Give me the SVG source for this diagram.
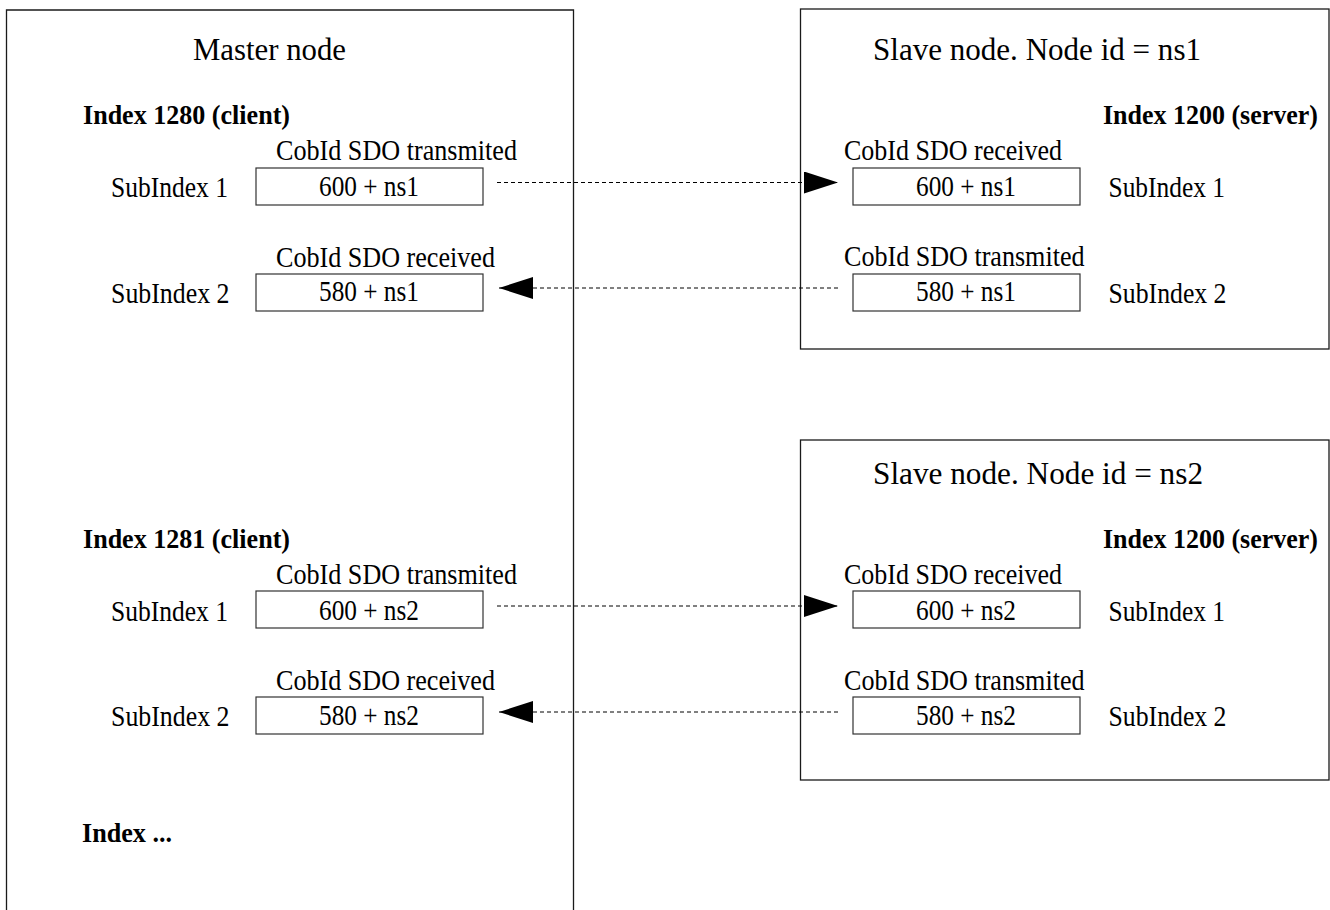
<svg xmlns="http://www.w3.org/2000/svg" width="1330" height="910" viewBox="0 0 1330 910">
<style>
  .frame{fill:none;stroke:#1a1a1a;stroke-width:1.3}
  .box{fill:#fff;stroke:#333;stroke-width:1.2}
  .t{font-family:"Liberation Serif","Times New Roman",serif;font-size:29px;fill:#000}
  .title{font-family:"Liberation Serif","Times New Roman",serif;font-size:32px;fill:#000}
  .b{font-family:"Liberation Serif","Times New Roman",serif;font-size:27px;font-weight:bold;fill:#000}
  .dash{fill:none;stroke:#000;stroke-width:1;stroke-dasharray:4 3}
</style>
<defs>
  <marker id="ah" markerUnits="userSpaceOnUse" markerWidth="34" markerHeight="22" refX="34" refY="11" orient="auto">
    <path d="M0,0 L34,11 L0,22 Z" fill="#000"/>
  </marker>
</defs>
<rect width="1330" height="910" fill="#fff"/>

<g id="master">
  <path class="frame" d="M6.5,920 V10 H573.5 V920"/>
  <text class="title" x="193" y="60" textLength="153" lengthAdjust="spacingAndGlyphs">Master node</text>
  <text class="b" x="83" y="124" textLength="207" lengthAdjust="spacingAndGlyphs">Index 1280 (client)</text>
  <text class="t" x="276" y="160" textLength="241" lengthAdjust="spacingAndGlyphs">CobId SDO transmited</text>
  <text class="t" x="111" y="197" textLength="117" lengthAdjust="spacingAndGlyphs">SubIndex 1</text>
  <rect class="box" x="256" y="168" width="227" height="37"/>
  <text class="t" x="319" y="196" textLength="100" lengthAdjust="spacingAndGlyphs">600 + ns1</text>
  <text class="t" x="276" y="266.5" textLength="219" lengthAdjust="spacingAndGlyphs">CobId SDO received</text>
  <text class="t" x="111" y="302.5" textLength="118.5" lengthAdjust="spacingAndGlyphs">SubIndex 2</text>
  <rect class="box" x="256" y="274" width="227" height="37"/>
  <text class="t" x="319" y="301" textLength="100" lengthAdjust="spacingAndGlyphs">580 + ns1</text>

  <text class="b" x="83" y="548" textLength="207" lengthAdjust="spacingAndGlyphs">Index 1281 (client)</text>
  <text class="t" x="276" y="583.5" textLength="241" lengthAdjust="spacingAndGlyphs">CobId SDO transmited</text>
  <text class="t" x="111" y="620.5" textLength="117" lengthAdjust="spacingAndGlyphs">SubIndex 1</text>
  <rect class="box" x="256" y="591" width="227" height="37"/>
  <text class="t" x="319" y="619.5" textLength="100" lengthAdjust="spacingAndGlyphs">600 + ns2</text>
  <text class="t" x="276" y="690" textLength="219" lengthAdjust="spacingAndGlyphs">CobId SDO received</text>
  <text class="t" x="111" y="726" textLength="118.5" lengthAdjust="spacingAndGlyphs">SubIndex 2</text>
  <rect class="box" x="256" y="697" width="227" height="37"/>
  <text class="t" x="319" y="724.5" textLength="100" lengthAdjust="spacingAndGlyphs">580 + ns2</text>

  <text class="b" x="82" y="842" textLength="90" lengthAdjust="spacingAndGlyphs">Index ...</text>
</g>

<g id="slave1">
  <rect class="frame" x="800.5" y="9" width="528.5" height="340"/>
  <text class="title" x="873" y="60" textLength="328" lengthAdjust="spacingAndGlyphs">Slave node. Node id = ns1</text>
  <text class="b" x="1103" y="124" textLength="215" lengthAdjust="spacingAndGlyphs">Index 1200 (server)</text>
  <text class="t" x="844" y="160" textLength="218" lengthAdjust="spacingAndGlyphs">CobId SDO received</text>
  <rect class="box" x="853" y="168" width="227" height="37"/>
  <text class="t" x="916" y="196" textLength="100" lengthAdjust="spacingAndGlyphs">600 + ns1</text>
  <text class="t" x="1108.5" y="197" textLength="116.5" lengthAdjust="spacingAndGlyphs">SubIndex 1</text>
  <text class="t" x="844" y="266" textLength="240.5" lengthAdjust="spacingAndGlyphs">CobId SDO transmited</text>
  <rect class="box" x="853" y="274" width="227" height="37"/>
  <text class="t" x="916" y="301" textLength="100" lengthAdjust="spacingAndGlyphs">580 + ns1</text>
  <text class="t" x="1108.5" y="302.5" textLength="118" lengthAdjust="spacingAndGlyphs">SubIndex 2</text>
</g>

<g id="slave2">
  <rect class="frame" x="800.5" y="440" width="528.5" height="340"/>
  <text class="title" x="873" y="483.5" textLength="330" lengthAdjust="spacingAndGlyphs">Slave node. Node id = ns2</text>
  <text class="b" x="1103" y="547.5" textLength="215" lengthAdjust="spacingAndGlyphs">Index 1200 (server)</text>
  <text class="t" x="844" y="583.5" textLength="218" lengthAdjust="spacingAndGlyphs">CobId SDO received</text>
  <rect class="box" x="853" y="591" width="227" height="37"/>
  <text class="t" x="916" y="619.5" textLength="100" lengthAdjust="spacingAndGlyphs">600 + ns2</text>
  <text class="t" x="1108.5" y="620.5" textLength="116.5" lengthAdjust="spacingAndGlyphs">SubIndex 1</text>
  <text class="t" x="844" y="689.5" textLength="240.5" lengthAdjust="spacingAndGlyphs">CobId SDO transmited</text>
  <rect class="box" x="853" y="697" width="227" height="37"/>
  <text class="t" x="916" y="724.5" textLength="100" lengthAdjust="spacingAndGlyphs">580 + ns2</text>
  <text class="t" x="1108.5" y="726" textLength="118" lengthAdjust="spacingAndGlyphs">SubIndex 2</text>
</g>

<g id="connectors">
  <path class="dash" d="M497,182.5 H838" marker-end="url(#ah)"/>
  <path class="dash" d="M838,288 H499" marker-end="url(#ah)"/>
  <path class="dash" d="M497,606 H838" marker-end="url(#ah)"/>
  <path class="dash" d="M838,712 H499" marker-end="url(#ah)"/>
</g>
</svg>
